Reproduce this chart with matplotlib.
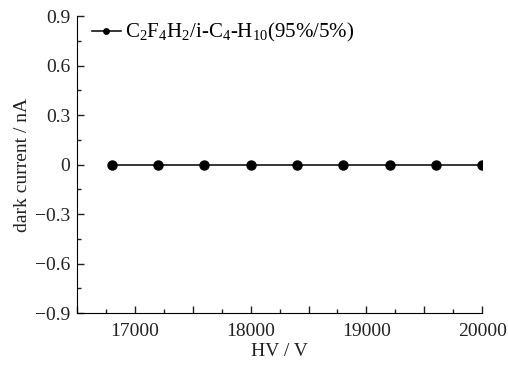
import matplotlib
matplotlib.use("Agg")
import matplotlib.pyplot as plt
from matplotlib.ticker import MultipleLocator, FuncFormatter

plt.rcParams['font.family'] = ['Liberation Serif', 'DejaVu Serif']
plt.rcParams['mathtext.fontset'] = 'custom'
plt.rcParams['mathtext.rm'] = 'Liberation Serif'
plt.rcParams['mathtext.it'] = 'Liberation Serif:italic'

hv = [16800, 17200, 17600, 18000, 18400, 18800, 19200, 19600, 20000]
dark_current = [0, 0, 0, 0, 0, 0, 0, 0, 0]
label = r'C$_2$F$_4$H$_2$/i-C$_4$-H$_{10}$(95%/5%)'

fig = plt.figure(figsize=(5.08, 3.65), dpi=100)
ax = fig.add_axes([0.152, 0.142, 0.797, 0.814])

ax.plot(hv, dark_current, color='black', marker='o', markersize=6.5, linewidth=1.1, label=label)

ax.set_xlim(16500, 20000)
ax.set_ylim(-0.9, 0.9)
ax.xaxis.set_major_locator(MultipleLocator(500))
ax.xaxis.set_minor_locator(MultipleLocator(250))
ax.xaxis.set_major_formatter(FuncFormatter(lambda v, p: '%d' % v if v % 1000 == 0 else ''))
ax.yaxis.set_major_locator(MultipleLocator(0.3))
ax.yaxis.set_minor_locator(MultipleLocator(0.15))
ax.yaxis.set_major_formatter(FuncFormatter(lambda v, p: '0' if abs(v) < 1e-9 else ('%.1f' % v).replace('-', '\u2212')))

for s in ['top', 'right']:
    ax.spines[s].set_visible(False)
ax.tick_params(which='both', direction='in', labelsize=14, width=1, colors='#222222')
ax.tick_params(which='major', length=5)
ax.tick_params(axis='x', which='major', pad=7)
ax.tick_params(axis='y', which='major', pad=5)
ax.tick_params(which='minor', length=3)

ax.set_xlabel('HV / V', fontsize=14, labelpad=2, color='#222222')
ax.set_ylabel('dark current / nA', fontsize=14, labelpad=3, color='#222222')

ax.legend(loc='upper left', bbox_to_anchor=(0.015, 1.01), frameon=False, fontsize=15,
          handlelength=1.4, handletextpad=0.2, borderaxespad=0, markerscale=0.6)

fig.savefig('out.png', dpi=100)
